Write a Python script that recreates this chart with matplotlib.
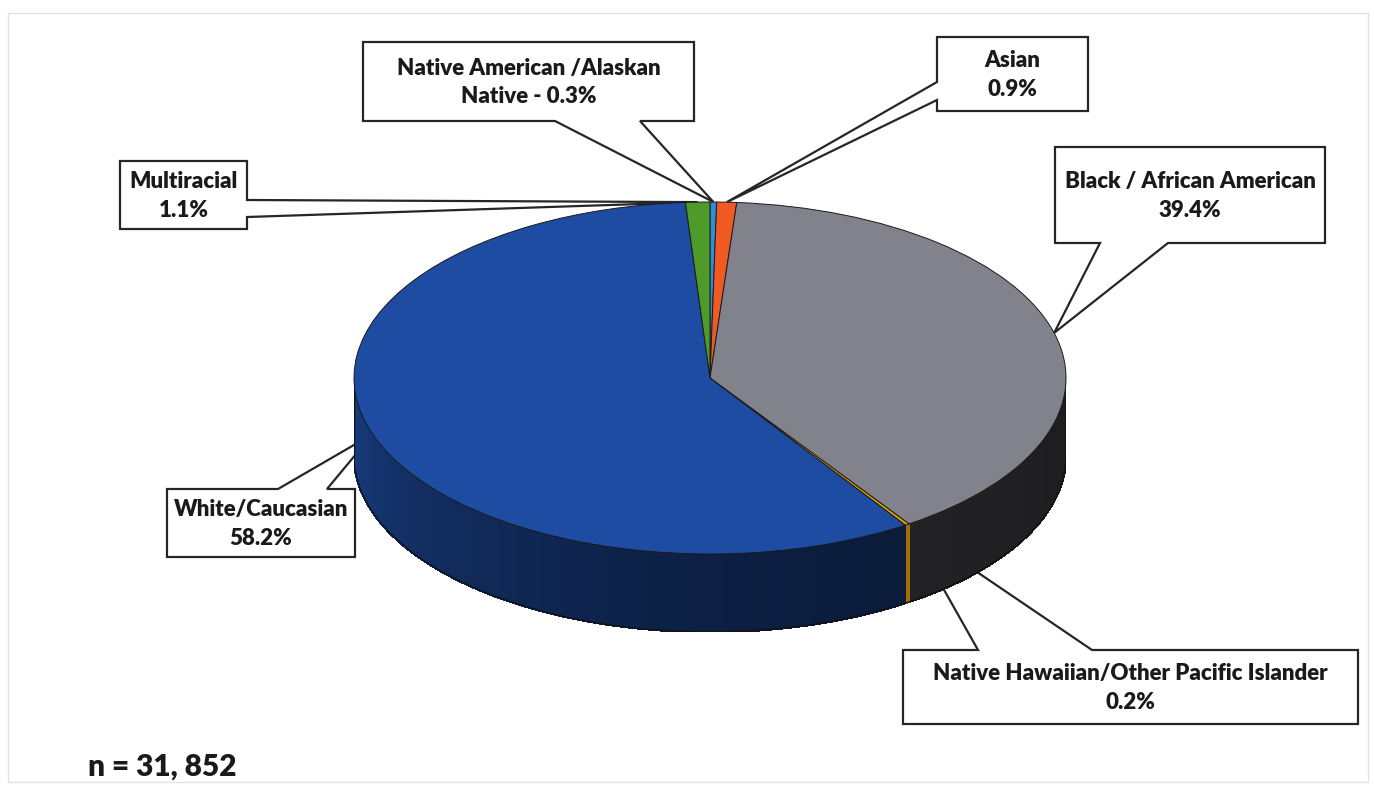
import numpy as np
import matplotlib.pyplot as plt
from matplotlib.patches import Polygon, Rectangle
from matplotlib.collections import PolyCollection
from matplotlib.colors import to_rgb

plt.rcParams['font.family'] = ['Lato', 'DejaVu Sans']

# race breakdown, listed clockwise from 12 o'clock
names = ['Native American /Alaskan\nNative', 'Asian', 'Black / African American',
         'Native Hawaiian/Other Pacific Islander', 'White/Caucasian', 'Multiracial']
shares = [0.3, 0.9, 39.4, 0.2, 58.2, 1.1]
seps = [' - ', '\n', '\n', '\n', '\n', '\n']
colors = ['#2E8FD8', '#F05A22', '#82828C', '#E0A000', '#1E4CA2', '#4E9A2A']
n_total = '31, 852'

W, H = 1374, 793

# pie placement in pixels
cx, cy, rx, ry, depth = 710, 378, 356, 176, 78

# callout boxes: (x0, y0, x1, y1), side the pointer leaves from, pointer base
boxes = [((363, 42, 694, 121), 'bottom', (555, 640)),
         ((937, 37, 1088, 111), 'left', (82, 100)),
         ((1055, 147, 1325, 243), 'bottom', (1100, 1168)),
         ((903, 650, 1358, 724), 'top', (978, 1092)),
         ((167, 489, 355, 557), 'top', (278, 327)),
         ((120, 161, 247, 229), 'right', (200, 217))]

fig = plt.figure(figsize=(W / 100, H / 100), dpi=100)
ax = fig.add_axes([0, 0, 1, 1])
ax.set_xlim(0, W)
ax.set_ylim(H, 0)
ax.axis('off')

dd = depth / ry
pax = fig.add_axes([(cx - rx) / W, 1 - (cy + ry + depth) / H, 2 * rx / W, (2 * ry + depth) / H])

# slice boundaries (degrees), clockwise from the top like pie(counterclock=False)
vals = np.array(shares)
cum = np.concatenate([[0], np.cumsum(vals / vals.sum())])
bounds = 90 - 360 * cum


def shade(t, grey=False):
    if grey:
        return np.interp(t, [280, 310, 360], [0.3, 0.26, 0.22])
    return np.interp(t, [180, 215, 260, 300, 360], [0.82, 0.6, 0.44, 0.36, 0.3])


# side wall, drawn as thin strips so the shading can run round the front
polys, fcols = [], []
for i in range(len(vals)):
    hi, lo = bounds[i], bounds[i + 1]
    base = np.array(to_rgb(colors[i]))
    for off in (-360, 0, 360):
        a, b = max(lo + off, 180), min(hi + off, 360)
        if b <= a:
            continue
        ts = np.linspace(a, b, max(2, int((b - a) / 1.0) + 2))
        for t0, t1 in zip(ts[:-1], ts[1:]):
            r0, r1 = np.radians(t0), np.radians(t1)
            polys.append([(np.cos(r0), np.sin(r0)), (np.cos(r1), np.sin(r1)),
                          (np.cos(r1), np.sin(r1) - dd), (np.cos(r0), np.sin(r0) - dd)])
            k = shade(0.5 * (t0 + t1), grey=(i == 2))
            if i == 3:
                k = 0.7
            fcols.append(np.clip(base * k, 0, 1))
pax.add_collection(PolyCollection(polys, facecolors=fcols, edgecolors=fcols, linewidths=1.0,
                                  antialiaseds=False, zorder=1))

tt = np.radians(np.linspace(180, 360, 300))
pax.plot(np.cos(tt), np.sin(tt) - dd, color='#111111', lw=1.0, zorder=2)
pax.plot([-1, -1], [0, -dd], color='#111111', lw=1.0, zorder=2)
pax.plot([1, 1], [0, -dd], color='#111111', lw=1.0, zorder=2)

pax.pie(vals, colors=colors, startangle=90, counterclock=False, radius=1, frame=True,
        wedgeprops=dict(edgecolor='#1a1a1a', linewidth=0.7, zorder=3))
pax.set_aspect('auto')
pax.set_xlim(-1, 1)
pax.set_ylim(-1 - dd, 1)
pax.axis('off')

# callouts
for i, ((x0, y0, x1, y1), side, (b1, b2)) in enumerate(boxes):
    m = np.radians(0.5 * (bounds[i] + bounds[i + 1]))
    tip = (cx + rx * np.cos(m), cy - ry * np.sin(m))
    if side == 'bottom':
        verts = [(x0, y0), (x1, y0), (x1, y1), (b2, y1), tip, (b1, y1), (x0, y1)]
    elif side == 'top':
        verts = [(x0, y0), (b1, y0), tip, (b2, y0), (x1, y0), (x1, y1), (x0, y1)]
    elif side == 'left':
        verts = [(x0, y0), (x1, y0), (x1, y1), (x0, y1), (x0, b2), tip, (x0, b1)]
    else:
        verts = [(x0, y0), (x1, y0), (x1, b1), tip, (x1, b2), (x1, y1), (x0, y1)]
    ax.add_patch(Polygon(verts, closed=True, facecolor='white', edgecolor='#262626',
                         lw=1.6, joinstyle='miter', zorder=5))
    ax.text((x0 + x1) / 2, (y0 + y1) / 2 + 1, f'{names[i]}{seps[i]}{shares[i]}%',
            ha='center', va='center', multialignment='center', fontsize=16,
            fontweight='heavy', color='#1a1a1a', linespacing=1.45, zorder=6)

ax.add_patch(Rectangle((8, 13), 1360, 769, fill=False, edgecolor='#e2e2e2', lw=1.0, zorder=0))
ax.text(88, 767, f'n = {n_total}', ha='left', va='center', fontsize=21.5,
        fontweight='heavy', color='#1a1a1a')

fig.savefig('out.png', dpi=100)
